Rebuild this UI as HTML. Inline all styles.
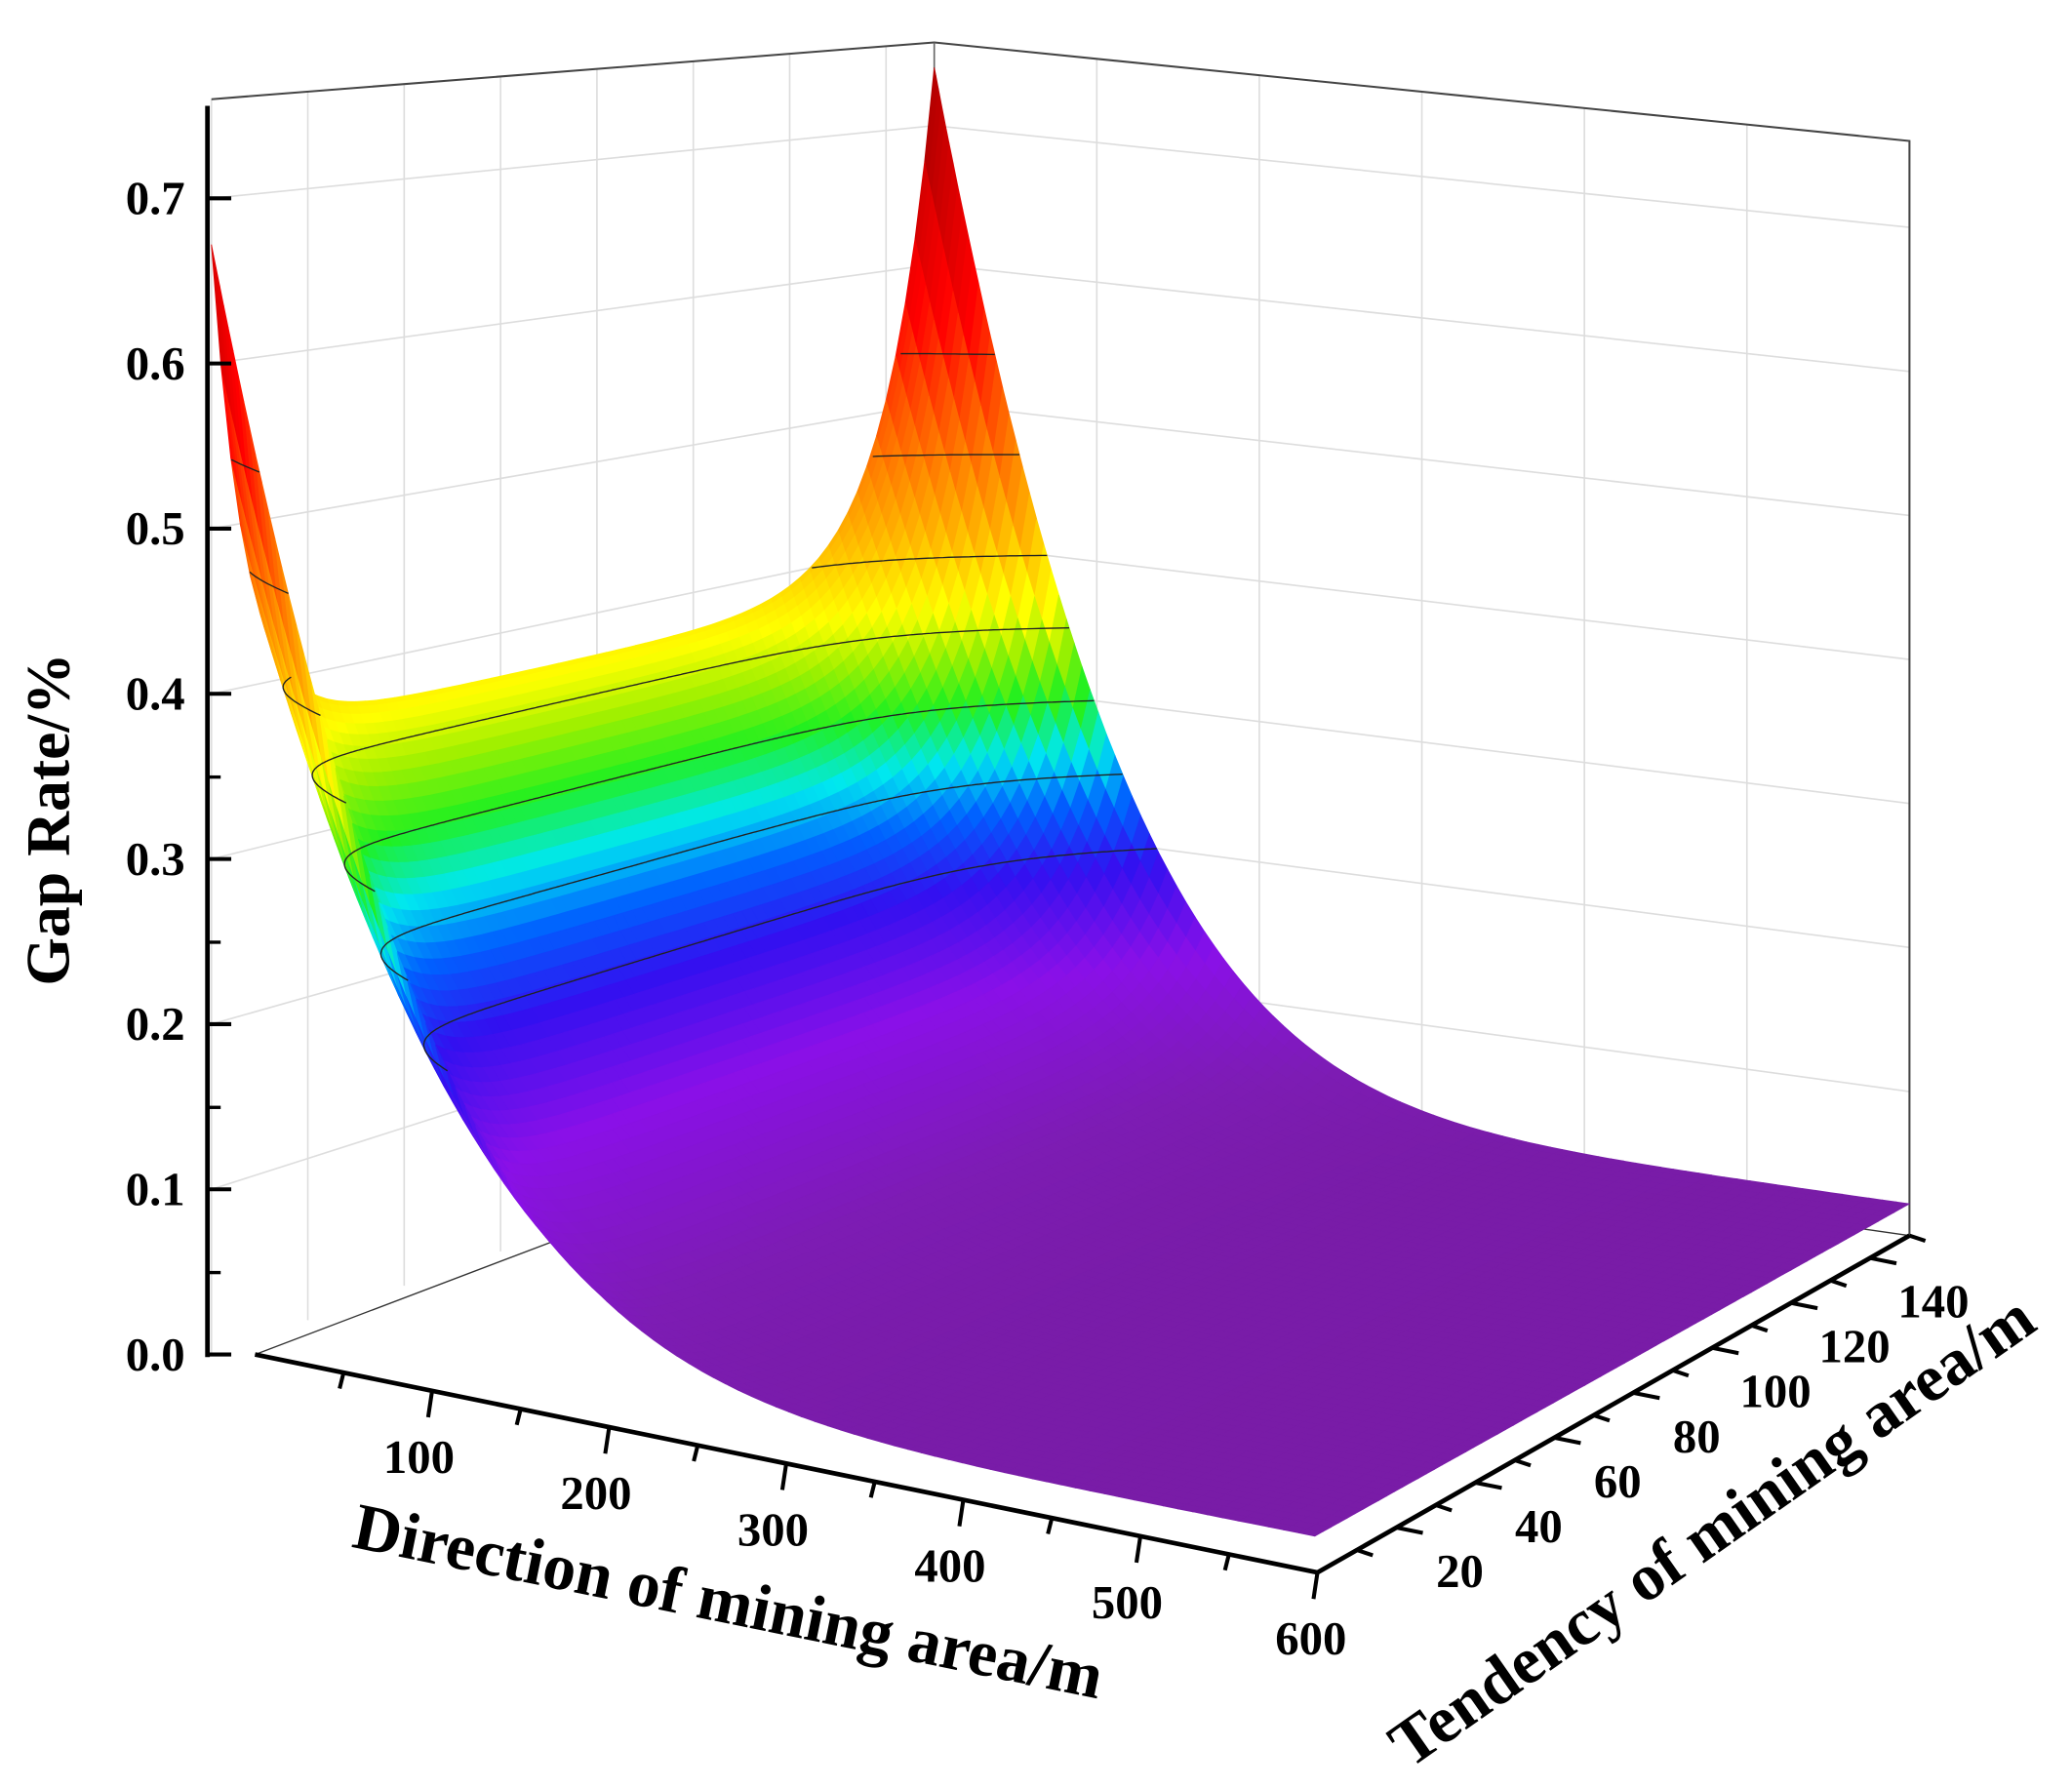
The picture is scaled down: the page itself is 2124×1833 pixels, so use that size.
<!DOCTYPE html>
<html><head><meta charset="utf-8"><style>
html,body{margin:0;padding:0;background:#fff;}
svg{display:block;}
text{font-family:"Liberation Serif",serif;font-weight:bold;fill:#000;}
</style></head><body>
<svg id="s" xmlns="http://www.w3.org/2000/svg" width="2124" height="1833" viewBox="0 0 1568 1353">
<rect width="1568" height="1353" fill="#fff"/>
<g id="walls"></g>
<g id="surf"></g>
<g id="cont" fill="none" stroke="#222" stroke-width="1"></g>
<g id="axes"></g>
<text x="0" y="0" font-size="47" transform="translate(52,620) rotate(-90)" text-anchor="middle">Gap Rate/%</text>
<text x="0" y="0" font-size="50" transform="translate(548,1228) rotate(11.5)" text-anchor="middle">Direction of mining area/m</text>
<text x="0" y="0" font-size="50" transform="translate(1305,1172) rotate(-35)" text-anchor="middle">Tendency of mining area/m</text>
</svg>
<script>
var NS="http://www.w3.org/2000/svg";
var A=[160,1025],B=[995,1190],C=[1445,935],D=[707,830];
var SA=1250,SB=1250,SC=1090,SD=1050;
function P(d,t,z){var u=d/600,v=t/150;
 var a=(1-u)*(1-v),b=u*(1-v),c=u*v,e=(1-u)*v;
 var x=A[0]*a+B[0]*b+C[0]*c+D[0]*e, y=A[1]*a+B[1]*b+C[1]*c+D[1]*e;
 var s=SA*a+SB*b+SC*c+SD*e; return [x,y-z*s];}
function h(t){return 0.35+0.30*Math.exp(-t/7)+0.37*Math.exp(-(150-t)/10);}
function Z(d,t){return h(t)*Math.exp(-d/120-Math.pow(d/270,2))+0.022;}
var stops=[[0,[118,28,160]],[0.06,[125,28,180]],[0.13,[138,16,232]],[0.19,[50,16,240]],[0.23,[0,96,255]],[0.265,[0,232,240]],[0.30,[32,240,32]],[0.335,[160,240,0]],[0.365,[255,255,0]],[0.42,[255,176,0]],[0.49,[255,96,0]],[0.57,[255,0,0]],[0.76,[150,0,0]]];
function col(z){if(z<=0)return "rgb(118,28,160)";for(var i=1;i<stops.length;i++){if(z<=stops[i][0]){var a=stops[i-1],b=stops[i],f=(z-a[0])/(b[0]-a[0]);
 return "rgb("+[0,1,2].map(function(k){return Math.round(a[1][k]+(b[1][k]-a[1][k])*f)}).join(",")+")";}}return "rgb(150,0,0)";}
function el(g,tag,at){var e=document.createElementNS(NS,tag);for(var k in at)e.setAttribute(k,at[k]);g.appendChild(e);return e;}
function pt(p){return p[0].toFixed(1)+","+p[1].toFixed(1);}
var W=document.getElementById("walls");
var ZT=0.76;
for(var t=0;t<=150;t+=20){var a=P(0,t,0),b=P(0,t,ZT);el(W,"line",{x1:a[0],y1:a[1],x2:b[0],y2:b[1],stroke:"#ddd","stroke-width":1.2});}
for(var d=0;d<=600;d+=100){var a=P(d,150,0),b=P(d,150,ZT);el(W,"line",{x1:a[0],y1:a[1],x2:b[0],y2:b[1],stroke:"#ddd","stroke-width":1.2});}
for(var z=0.1;z<0.75;z+=0.1){var a=P(0,0,z),b=P(0,150,z),c=P(600,150,z);el(W,"polyline",{points:pt(a)+" "+pt(b)+" "+pt(c),fill:"none",stroke:"#ddd","stroke-width":1.2});}
var a=P(0,0,ZT),b=P(0,150,ZT),c=P(600,150,ZT),c0=P(600,150,0),b0=P(0,150,0),a0=P(0,0,0);
el(W,"polyline",{points:pt(a)+" "+pt(b)+" "+pt(c)+" "+pt(c0),fill:"none",stroke:"#444","stroke-width":1.5});
el(W,"line",{x1:b[0],y1:b[1],x2:b0[0],y2:b0[1],stroke:"#666","stroke-width":1.2});
el(W,"polyline",{points:"193,1025 "+pt(b0)+" "+pt(c0),fill:"none",stroke:"#333","stroke-width":1});
var S=document.getElementById("surf");
var nd=100,nt=75,q=[];
function dv(i){return 600*Math.pow(i/nd,1.4);}
for(var i=0;i<nd;i++)for(var j=0;j<nt;j++){
 var d0=dv(i),d1=dv(i+1),t0=150*j/nt,t1=150*(j+1)/nt;
 var z00=Z(d0,t0),z10=Z(d1,t0),z11=Z(d1,t1),z01=Z(d0,t1);
 var g=P((d0+d1)/2,(t0+t1)/2,0);
 q.push([g[1],[P(d0,t0,z00),P(d1,t0,z10),P(d1,t1,z11),P(d0,t1,z01)],(z00+z10+z11+z01)/4]);}
q.sort(function(a,b){return a[0]-b[0];});
q.forEach(function(r){var c=col(r[2]);el(S,"polygon",{points:r[1].map(pt).join(" "),fill:c,stroke:c,"stroke-width":0.6});});
var CG=document.getElementById("cont");
[0.2,0.25,0.3,0.35,0.4,0.47,0.54].forEach(function(L){var pts=[];
 for(var j=0;j<=150;j+=0.5){var lo=0,hi=600;if(Z(0,j)<L){if(pts.length>1)el(CG,"polyline",{points:pts.join(" ")});pts=[];continue;}
  for(var k=0;k<40;k++){var m=(lo+hi)/2;if(Z(m,j)>L)lo=m;else hi=m;}pts.push(pt(P(lo,j,L)));}
 if(pts.length>1)el(CG,"polyline",{points:pts.join(" ")});});
var X=document.getElementById("axes");
el(X,"line",{x1:157,y1:80,x2:157,y2:1027,stroke:"#000","stroke-width":3.5});
for(var k=0;k<=7;k++){var y=1025-k*125;el(X,"line",{x1:157,y1:y,x2:175,y2:y,stroke:"#000","stroke-width":3});
 var tx=el(X,"text",{x:140,y:y+12,"font-size":36,"text-anchor":"end"});tx.textContent=k==0?"0.0":"0."+k;}
for(var k=0;k<4;k++){var y=1025-62-k*125;el(X,"line",{x1:157,y1:y,x2:167,y2:y,stroke:"#000","stroke-width":2.5});}
el(X,"line",{x1:193,y1:1025,x2:997,y2:1190,stroke:"#000","stroke-width":3.5});
for(var d=50;d<=600;d+=50){var p=[193+(997-193)*d/600,1025+165*d/600];var L=d%100==0?20:12;
 el(X,"line",{x1:p[0],y1:p[1],x2:p[0]-3,y2:p[1]+L,stroke:"#000","stroke-width":3});
 if(d%100==0){var tx=el(X,"text",{x:p[0]-10+(d==600?5:0),y:p[1]+62,"font-size":36,"text-anchor":"middle"});tx.textContent=d;}}
el(X,"line",{x1:997,y1:1190,x2:1445,y2:935,stroke:"#000","stroke-width":3.5});
for(var t=10;t<=150;t+=10){var f=t/150;var p=[997+448*f,1190-255*f];var L=t%20==0?20:12;
 el(X,"line",{x1:p[0],y1:p[1],x2:p[0]+L,y2:p[1]+4,stroke:"#000","stroke-width":3});
 if(t%20==0){var tx=el(X,"text",{x:p[0]+48,y:p[1]+45,"font-size":36,"text-anchor":"middle"});tx.textContent=t;}}
</script>
</body></html>
